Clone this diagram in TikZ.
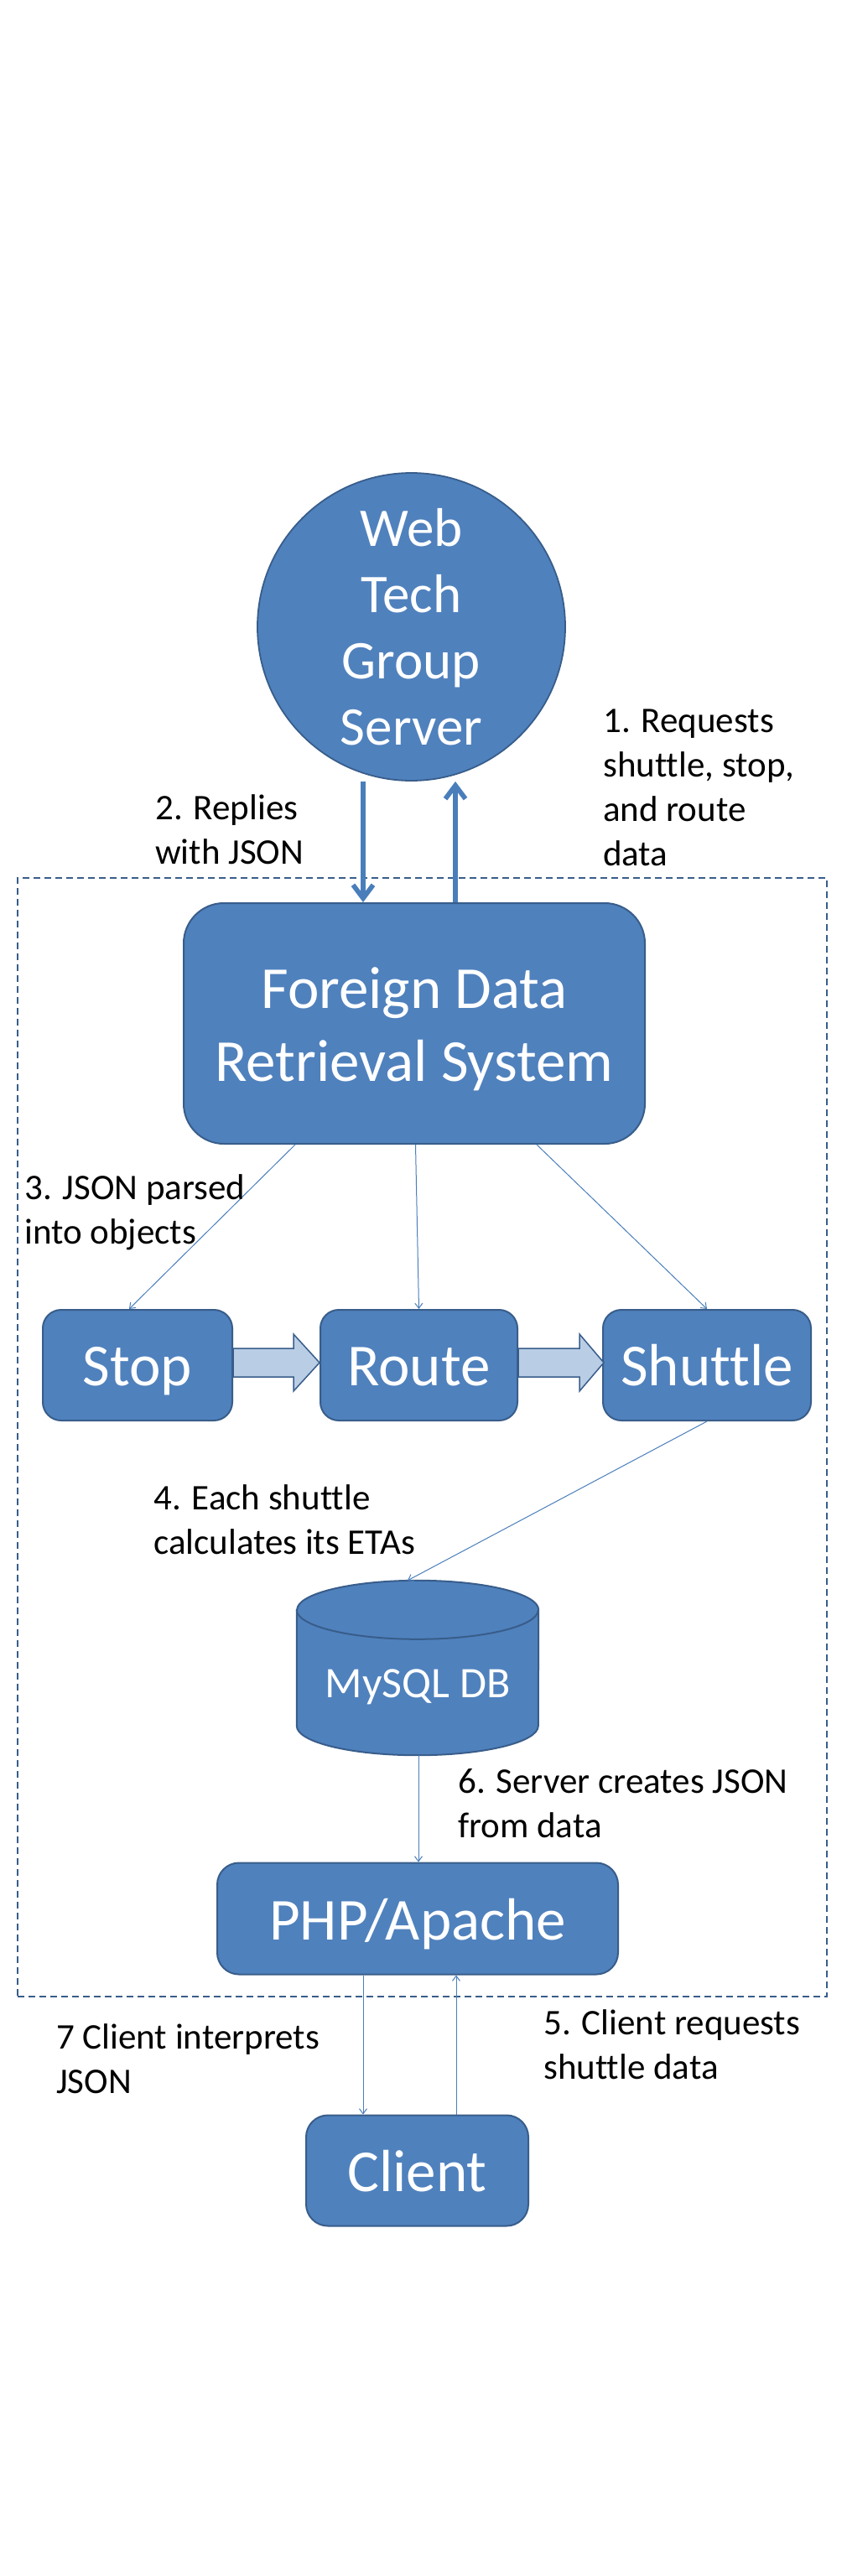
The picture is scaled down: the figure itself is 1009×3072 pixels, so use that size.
\documentclass[tikz,border=0pt]{standalone}
\usepackage{fontspec}
\setmainfont{Carlito}[Ligatures=NoCommon]
\usetikzlibrary{arrows.meta,calc,backgrounds}
\definecolor{boxfill}{HTML}{4F81BD}
\definecolor{boxline}{HTML}{385D8A}
\definecolor{conn}{HTML}{4A7EBB}
\definecolor{blockfill}{HTML}{B9CDE5}
\tikzset{
  nodebox/.style={draw=boxline, line width=2pt, fill=boxfill, text=white, inner sep=0pt, rounded corners=#1},
  bigtext/.style={font=\fontsize{71}{87}\selectfont},
  lbl/.style={inner sep=0pt, align=left, anchor=base west, font=\fontsize{43}{53}\selectfont},
  bigarrow/.style={draw=conn, line width=5.7pt, -{Straight Barb[length=16pt,width=24pt]}},
  thinarrow/.style={draw=conn, line width=1pt, -{Straight Barb[length=6pt,width=9pt]}},
  blockarrow/.style={draw=boxline, line width=1.5pt, fill=blockfill, line join=miter},
  sysframe/.style={draw=boxline, line width=2.3pt, dash pattern=on 8pt off 5pt, inner sep=0pt},
  cyl/.style={draw=boxline, line width=2pt, fill=boxfill},
}
\begin{document}
\begin{tikzpicture}[x=1pt,y=-1pt]
\begin{scope}[on background layer]
\fill[white] (0,0) rectangle (1009,3072);
\end{scope}
\useasboundingbox (0,0) rectangle (1009,3072);

% system frame
\node[sysframe, minimum width=965pt, minimum height=1334pt] (sys) at (503.3,1714) {};

% nodes
\node[circle, draw=boxline, line width=1.8pt, fill=boxfill, text=white, inner sep=0pt,
      minimum size=367pt, align=center, font=\fontsize{65}{79}\selectfont] (web) at (490.5,747.5) {Web\\Tech\\Group\\Server};
\node[nodebox=48pt, minimum width=550pt, minimum height=287pt, align=center, bigtext] (fdrs) at (494,1220.5) {\rule{0pt}{62pt}Foreign Data\\Retrieval System};
\node[nodebox=22pt, minimum width=226pt, minimum height=132pt, bigtext, text height=48pt, text depth=0pt] (stop) at (164,1628) {Stop};
\node[nodebox=22pt, minimum width=235pt, minimum height=132pt, bigtext, text height=48pt, text depth=0pt] (route) at (499.5,1628) {Route};
\node[nodebox=22pt, minimum width=248pt, minimum height=132pt, bigtext, text height=48pt, text depth=0pt] (shuttle) at (843,1628) {Shuttle};
\node[inner sep=0pt, minimum width=288pt, minimum height=208pt, text=white, font=\fontsize{52}{63}\selectfont, text height=70pt, text depth=0pt] (db) at (498,1989) {MySQL DB};
\node[nodebox=26pt, minimum width=478pt, minimum height=133pt, bigtext, text height=51pt, text depth=0pt] (php) at (498,2288) {PHP/Apache};
\node[nodebox=26pt, minimum width=265pt, minimum height=132pt, bigtext, text height=50pt, text depth=0pt] (client) at (497.5,2588.5) {Client};

% cylinder body of the database
\begin{scope}[on background layer]
\draw[cyl] ($(db.north west)+(0,35)$) -- ($(db.south west)+(0,-35)$)
  arc[start angle=180,end angle=360,x radius=144pt,y radius=35pt]
  -- ($(db.north east)+(0,35)$)
  arc[start angle=0,end angle=180,x radius=144pt,y radius=35pt] -- cycle;
\draw[draw=boxline, line width=2pt] ($(db.north west)+(0,35)$)
  arc[start angle=180,end angle=360,x radius=144pt,y radius=35pt];
\end{scope}

% block arrows
\draw[blockarrow] ($(stop.east)+(0,-20)$) -- ++(72,0) -- ++(0,-17) -- ($(route.west)+(0,-3)$)
  -- ($(stop.east)+(72,31)$) -- ++(0,-17) -- ($(stop.east)+(0,14)$) -- cycle;
\draw[blockarrow] ($(route.east)+(0,-20)$) -- ++(73,0) -- ++(0,-17) -- ($(shuttle.west)+(2,-3)$)
  -- ($(route.east)+(73,31)$) -- ++(0,-17) -- ($(route.east)+(0,14)$) -- cycle;

% connectors
\coordinate (dn) at (433,0);
\coordinate (up) at (543,0);
\draw[bigarrow] (web.south -| dn) -- (fdrs.north -| dn);
\draw[bigarrow] (fdrs.north -| up) -- (web.south -| up);
\draw[thinarrow] ([xshift=-142pt]fdrs.south) -- ([xshift=-10pt]stop.north);
\draw[thinarrow] ([xshift=1.5pt]fdrs.south) -- (route.north);
\draw[thinarrow] ([xshift=146pt]fdrs.south) -- (shuttle.north);
\draw[thinarrow] (shuttle.south) -- ([xshift=-12pt]db.north);
\draw[thinarrow] ([xshift=1pt]db.south) -- ([xshift=1pt]php.north);
\coordinate (cdn) at (433,0);
\coordinate (cup) at (544,0);
\draw[thinarrow] (php.south -| cdn) -- (client.north -| cdn);
\draw[thinarrow] (client.north -| cup) -- (php.south -| cup);

% labels (anchored at the baseline of their last line)
\node[lbl] (l1) at (719,1032) {1. Requests\\shuttle, stop,\\and route\\data};
\node[lbl] (l2) at (185,1030) {2. Replies\\with JSON};
\node[lbl] (l3) at (29,1483) {3. JSON parsed\\into objects};
\node[lbl] (l4) at (183,1853) {4. Each shuttle\\calculates its ETAs};
\node[lbl] (l6) at (546,2191) {6. Server creates JSON\\from data};
\node[lbl] (l7) at (67,2496) {7 Client interprets\\JSON};
\node[lbl] (l5) at (648,2479) {5. Client requests\\shuttle data};
\end{tikzpicture}
\end{document}
